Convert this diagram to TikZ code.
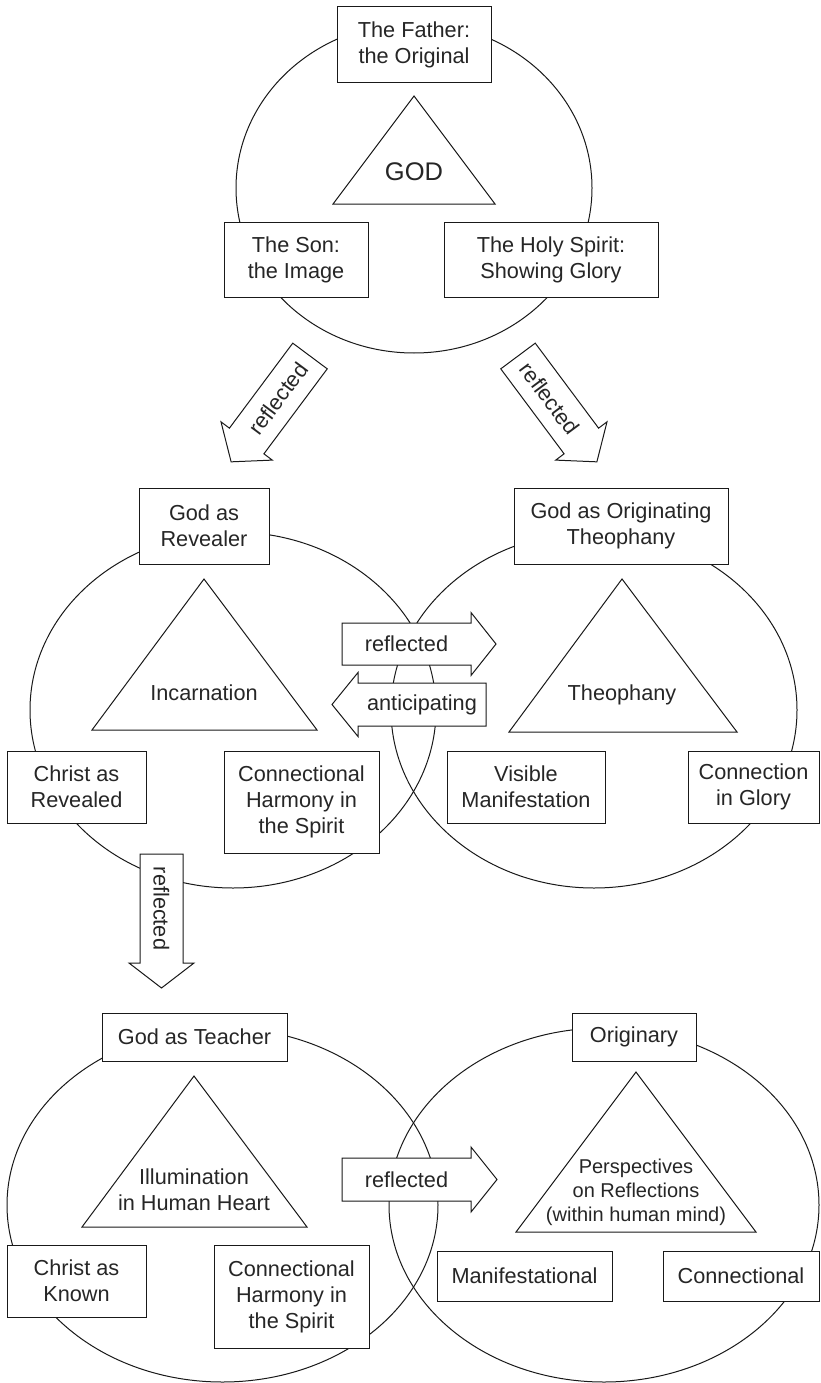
\documentclass[tikz,border=0pt]{standalone}
\usepackage{fontspec}
\setmainfont{Liberation Sans}
\newcommand\mainfs{\fontsize{21.7}{26}\selectfont}
\newcommand\godfs{\fontsize{25.5}{30}\selectfont}
\newcommand\smallfs{\fontsize{20}{24}\selectfont}
\newcommand\blockarrow[9]{%
  \begin{scope}[shift={#2}, rotate=#3]
    \draw[arrowbody] (0,-#5/2) -- ({#4-#7},-#5/2) -- ({#4-#7},-#6/2) -- (#4,0)
      -- ({#4-#7},#6/2) -- ({#4-#7},#5/2) -- (0,#5/2) -- cycle;
    \node[lbl, rotate=#8] (#1) at ({(#4-#7)/2},0) {#9};
  \end{scope}}
\begin{document}
\begin{tikzpicture}[x=1pt,y=-1pt,
  line width=1pt, draw=black!90, text=black!85,
  box/.style={draw, fill=white, align=center, inner sep=0pt, font=\mainfs},
  tri/.style={draw, line join=miter},
  ell/.style={draw},
  lbl/.style={align=center, inner sep=0pt, font=\mainfs},
  arrowbody/.style={draw, fill=white, line join=miter}]
\useasboundingbox (0,0) rectangle (820,1383);

% ---------- ellipses ----------
\draw[ell] (414,188) ellipse [x radius=178, y radius=165];
\draw[ell] (233,710) ellipse [x radius=203, y radius=178];
\draw[ell] (594,710) ellipse [x radius=203, y radius=178];
\draw[ell] (222.5,1205) ellipse [x radius=215.5, y radius=177];
\draw[ell] (604,1205) ellipse [x radius=215, y radius=177];

% ---------- triangles ----------
\draw[tri] (414,96) -- (495,204) -- (333,204) -- cycle;
\node[font=\godfs, inner sep=0pt] (god) at (414,172) {GOD};

\draw[tri] (204,579) -- (317,730) -- (92,730) -- cycle;
\node[lbl, anchor=base] (incarnation) at (204,700) {Incarnation};

\draw[tri] (622,579) -- (737,732) -- (509,732) -- cycle;
\node[lbl, anchor=base] (theophany) at (622,700) {Theophany};

\draw[tri] (194,1076) -- (307,1227) -- (82,1227) -- cycle;
\node[lbl] (illumination) at (194,1190) {Illumination\\in Human Heart};

\draw[tri] (636,1072) -- (756,1232) -- (516,1232) -- cycle;
\node[lbl, font=\smallfs] (perspectives) at (636,1192) {Perspectives\\on Reflections\\(within human mind)};

% ---------- boxes: top ----------
\node[box, minimum width=154, minimum height=76] (father) at (414,45) {The Father:\\the Original};
\node[box, minimum width=144, minimum height=75] (son) at (296,259.5) {The Son:\\the Image};
\node[box, minimum width=214, minimum height=75] (spirit) at (551,259.5) {The Holy Spirit:\\Showing Glory};

% ---------- boxes: middle ----------
\node[box, minimum width=130, minimum height=76] (revealer) at (204,526) {God as\\Revealer};
\node[box, minimum width=214, minimum height=76] (origtheo) at (621,526) {God as Originating\\Theophany};
\node[box, minimum width=139, minimum height=72] (christrev) at (76.5,787) {Christ as\\Revealed};
\node[box, minimum width=155, minimum height=102] (connharmA) at (301.5,802) {Connectional\\Harmony in\\the Spirit};
\node[box, minimum width=158, minimum height=72] (visible) at (526,787) {Visible\\Manifestation};
\node[box, minimum width=131, minimum height=72] (conglory) at (753.5,787) {Connection\\in Glory};

% ---------- boxes: bottom ----------
\node[box, minimum width=185, minimum height=48] (teacher) at (194.5,1037) {God as Teacher};
\node[box, minimum width=124, minimum height=48] (originary) at (634,1037) {Originary};
\node[box, minimum width=139, minimum height=72] (christknown) at (76.5,1281) {Christ as\\Known};
\node[box, minimum width=155, minimum height=103] (connharmB) at (291.5,1296.5) {Connectional\\Harmony in\\the Spirit};
\node[box, minimum width=175, minimum height=50] (manif) at (524.5,1276) {Manifestational};
\node[box, minimum width=156, minimum height=50] (connal) at (741,1276) {Connectional};

% ---------- block arrows ----------
\blockarrow{arrTL}{(310,356)}{-126.7}{132}{43}{64}{26}{53.3}{reflected}
\blockarrow{arrTR}{(518,356)}{-53.3}{132}{43}{64}{26}{-53.3}{reflected}
\blockarrow{arrMR}{(342,644)}{0}{154}{42}{63}{25}{0}{reflected}
\blockarrow{arrML}{(486,704.5)}{180}{154}{43}{64}{26}{0}{anticipating}
\blockarrow{arrDown}{(161.5,854)}{-90}{134}{43}{65}{25}{-90}{reflected}
\blockarrow{arrBR}{(342,1179.5)}{0}{155}{43}{65}{26}{0}{reflected}
\end{tikzpicture}
\end{document}
